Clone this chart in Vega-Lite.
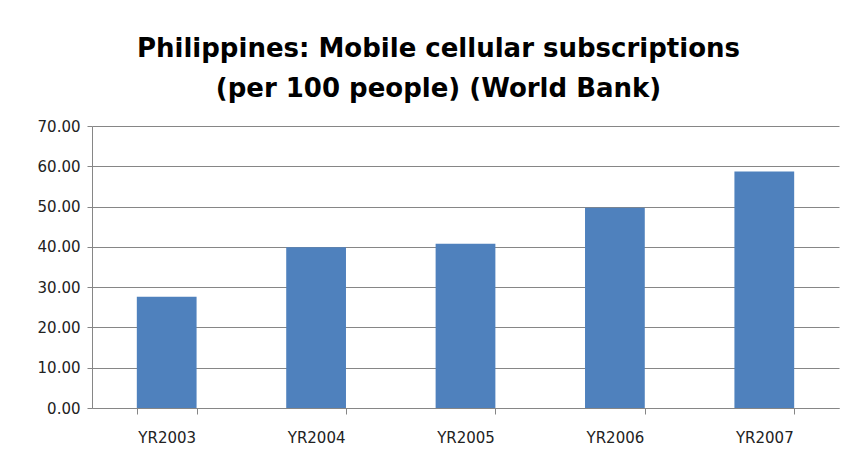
{
  "$schema": "https://vega.github.io/schema/vega-lite/v6.json",
  "width": 747,
  "height": 282,
  "autosize": {"type": "none"},
  "padding": {"left": 92, "top": 126, "right": 7, "bottom": 48},
  "background": "white",
  "title": {
    "text": ["Philippines: Mobile cellular subscriptions", "(per 100 people) (World Bank)"],
    "font": "DejaVu Sans",
    "fontSize": 26,
    "fontWeight": "bold",
    "color": "#000000",
    "anchor": "middle",
    "dx": -27,
    "offset": 17,
    "lineHeight": 40
  },
  "data": {
    "values": [
      {"year": "YR2003", "value": 27.6},
      {"year": "YR2004", "value": 39.9},
      {"year": "YR2005", "value": 40.8},
      {"year": "YR2006", "value": 49.7},
      {"year": "YR2007", "value": 58.7}
    ]
  },
  "mark": {"type": "bar", "color": "#4F81BD"},
  "encoding": {
    "x": {
      "field": "year",
      "type": "nominal",
      "sort": null,
      "scale": {"paddingInner": 0.6, "paddingOuter": 0.3},
      "axis": {
        "title": null,
        "labelAngle": 0,
        "labelFont": "DejaVu Sans",
        "labelFontSize": 15,
        "labelColor": "#222222",
        "labelPadding": 16,
        "tickBand": "extent",
        "tickSize": 6,
        "tickColor": "#868686",
        "domainColor": "#868686",
        "grid": false
      }
    },
    "y": {
      "field": "value",
      "type": "quantitative",
      "scale": {"domain": [0, 70]},
      "axis": {
        "title": null,
        "values": [0, 10, 20, 30, 40, 50, 60, 70],
        "format": ".2f",
        "labelFont": "DejaVu Sans",
        "labelFontSize": 15,
        "labelColor": "#222222",
        "labelPadding": 7,
        "tickSize": 5,
        "tickColor": "#868686",
        "domainColor": "#868686",
        "gridColor": "#868686",
        "gridOpacity": 1
      }
    }
  },
  "config": {"view": {"stroke": null}}
}
